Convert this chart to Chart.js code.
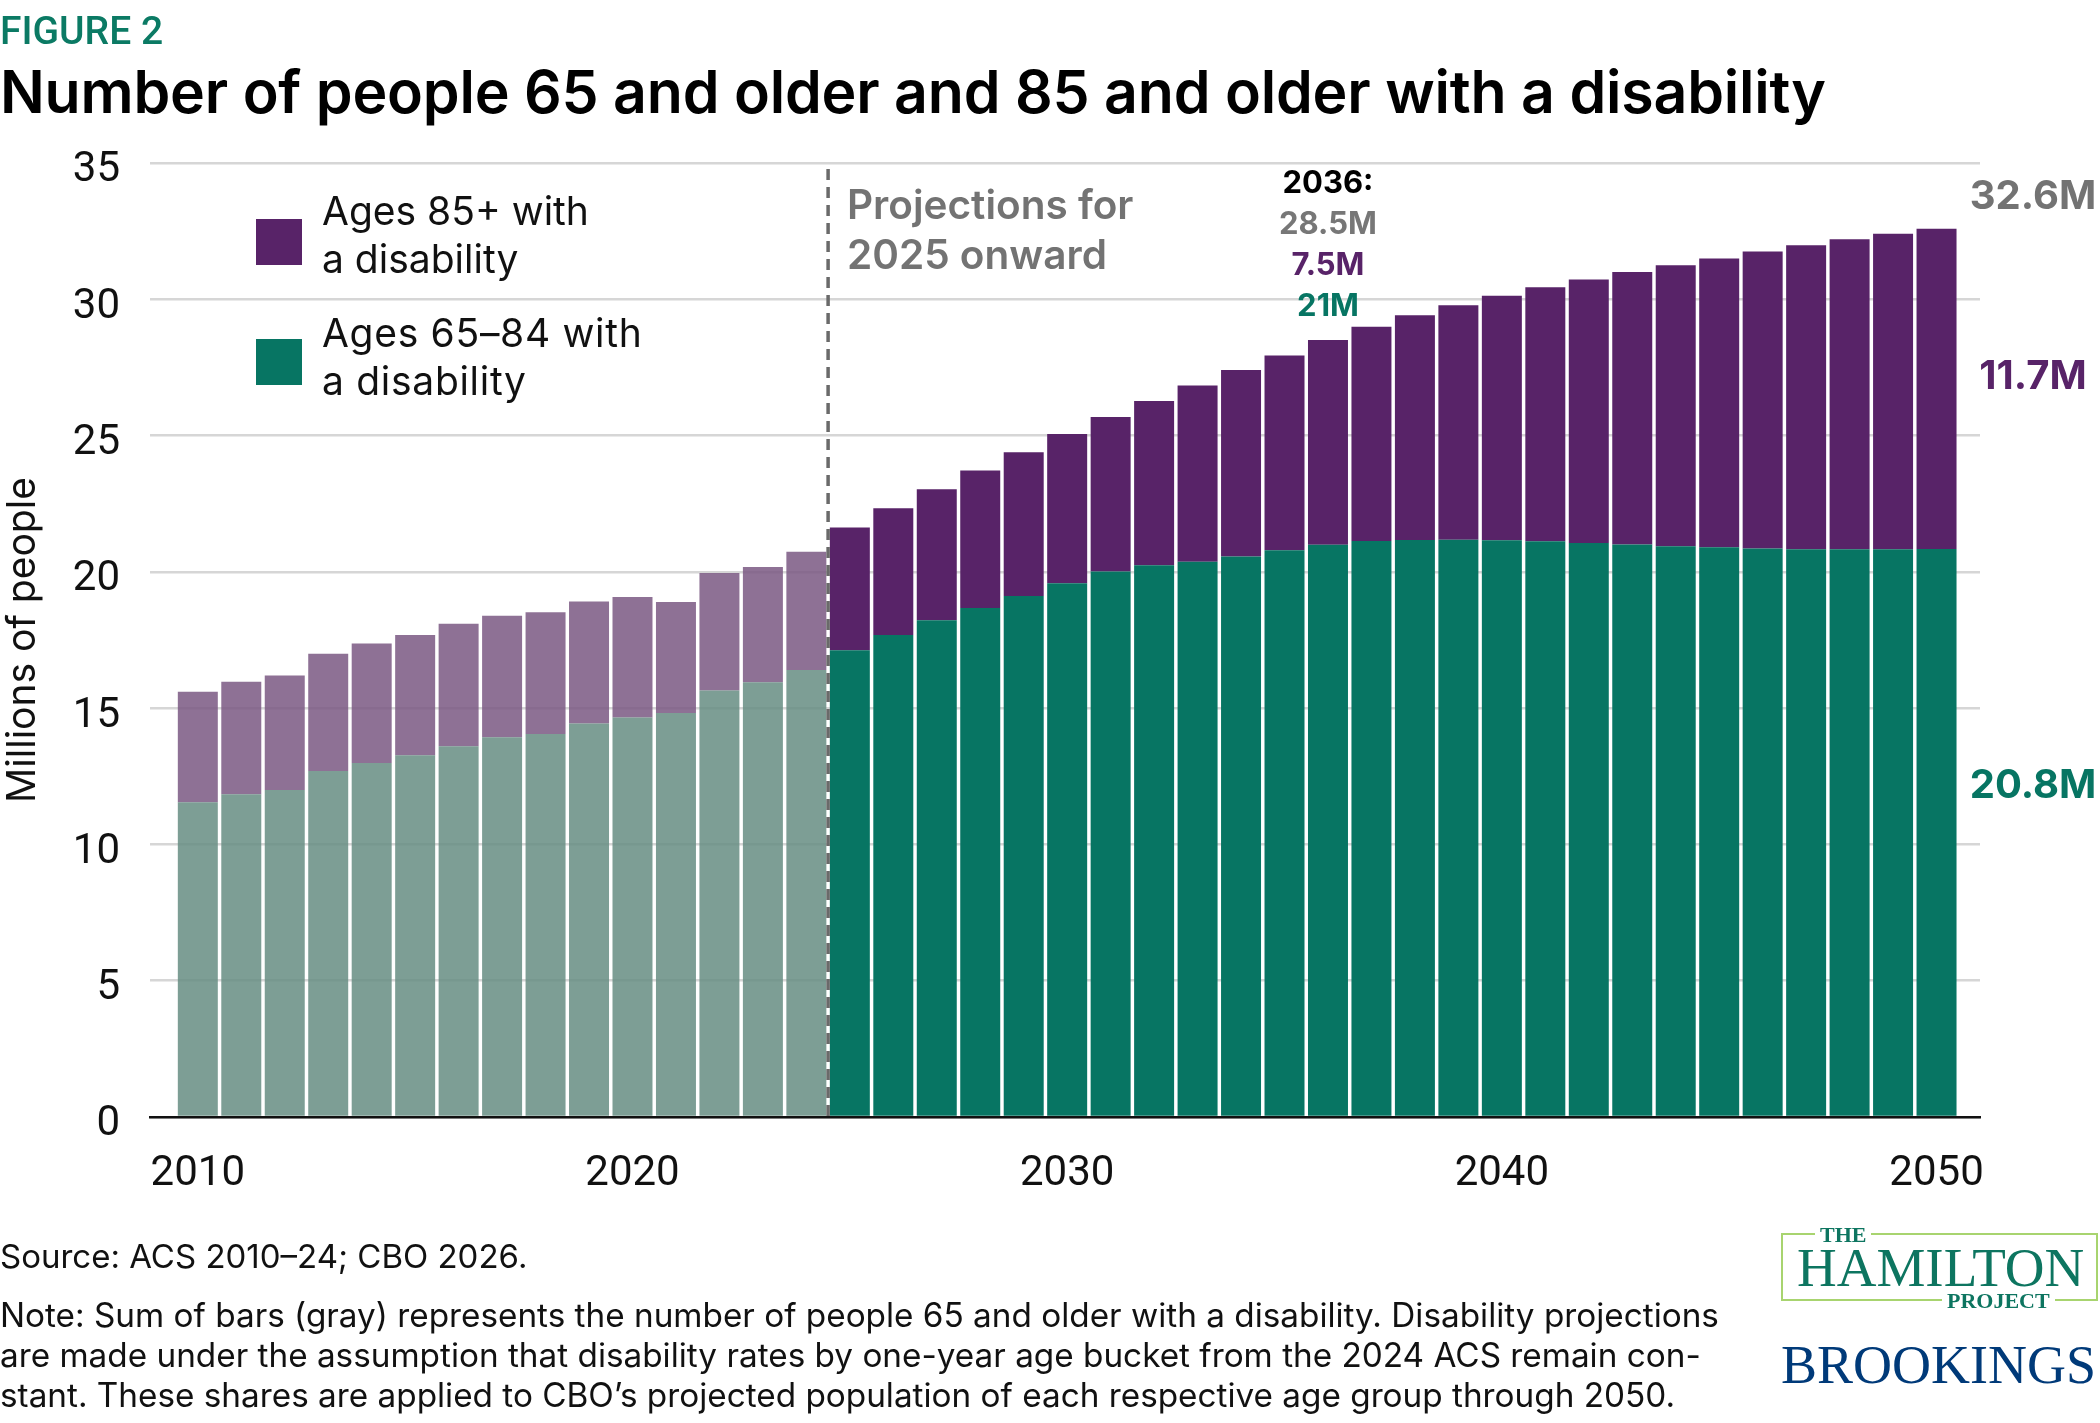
<!DOCTYPE html>
<html>
<head>
<meta charset="utf-8">
<script src="https://cdn.jsdelivr.net/npm/chart.js@4.4.1/dist/chart.umd.min.js"></script>
<style>
  html, body { margin:0; padding:0; background:#fff; }
  #wrap { position:relative; width:2100px; height:1423px; overflow:hidden; background:#fff; }
  #c { position:absolute; left:0; top:0; }
  .t { position:absolute; white-space:pre; margin:0; }
  .inter { font-family: Inter, "Noto Sans", sans-serif; }
  .rob { font-family: Roboto, "Liberation Sans", sans-serif; }
  .serif { font-family: "Liberation Serif", "DejaVu Serif", serif; }
</style>
</head>
<body>
<div id="wrap">
  <canvas id="c" width="2100" height="1423"></canvas>

  <div class="t rob" style="left:0;top:12px;font-size:39px;line-height:39px;font-weight:500;color:#0b7a64;">FIGURE 2</div>
  <div class="t inter" style="left:0;top:62px;font-size:59px;line-height:59px;font-weight:600;color:#000;letter-spacing:-0.2px;">Number of people 65 and older and 85 and older with a disability</div>

  <!-- legend -->
  <div style="position:absolute;left:256px;top:219px;width:46px;height:46px;background:#582368;"></div>
  <div class="t inter" style="left:322px;top:187px;font-size:39px;line-height:48px;color:#111;">Ages 85+ with
a disability</div>
  <div style="position:absolute;left:256px;top:339px;width:46px;height:46px;background:#077563;"></div>
  <div class="t inter" style="left:322px;top:309px;font-size:39px;line-height:48px;color:#111;letter-spacing:0.7px;">Ages 65–84 with
a disability</div>

  <!-- projections note -->
  <div class="t inter" style="left:847px;top:180px;font-size:40.5px;line-height:50px;font-weight:600;color:#737373;">Projections for
2025 onward</div>

  <!-- 2036 annotation -->
  <div class="t inter" style="left:1228px;top:161px;width:200px;text-align:center;font-size:31px;line-height:41px;font-weight:700;"><span style="color:#000">2036:</span>
<span style="color:#777">28.5M</span>
<span style="color:#582368">7.5M</span>
<span style="color:#077563">21M</span></div>

  <!-- right end labels -->
  <div class="t inter" style="left:1963px;top:175px;width:140px;text-align:center;font-size:40px;line-height:40px;font-weight:700;color:#737373;">32.6M</div>
  <div class="t inter" style="left:1963px;top:355px;width:140px;text-align:center;font-size:40px;line-height:40px;font-weight:700;color:#582368;">11.7M</div>
  <div class="t inter" style="left:1963px;top:764px;width:140px;text-align:center;font-size:40px;line-height:40px;font-weight:700;color:#077563;">20.8M</div>

  <!-- footer -->
  <div class="t inter" style="left:0;top:1236px;font-size:33px;line-height:40px;color:#111;">Source: ACS 2010–24; CBO 2026.</div>
  <div class="t inter" style="left:0;top:1295px;font-size:33.3px;line-height:40px;color:#111;">Note: Sum of bars (gray) represents the number of people 65 and older with a disability. Disability projections
are made under the assumption that disability rates by one-year age bucket from the 2024 ACS remain con-
stant. These shares are applied to CBO’s projected population of each respective age group through 2050.</div>

  <!-- logos -->
  <div style="position:absolute;left:1781px;top:1233px;width:317px;height:68px;border:2.5px solid #a8d46f;box-sizing:border-box;"></div>
  <div class="t serif" style="left:1815px;top:1224px;font-size:22px;line-height:22px;font-weight:700;color:#0d7560;background:#fff;padding:0 5px;">THE</div>
  <div class="t serif" style="left:1797px;top:1240px;font-size:55px;line-height:55px;color:#0d7560;">HAMILTON</div>
  <div class="t serif" style="left:1942px;top:1290px;font-size:22px;line-height:22px;font-weight:700;color:#0d7560;background:#fff;padding:0 5px;">PROJECT</div>
  <div class="t serif" style="left:1781px;top:1338px;font-size:54px;line-height:54px;color:#003a79;">BROOKINGS</div>
</div>

<script>
// ---- data ----
const years = [2010,2011,2012,2013,2014,2015,2016,2017,2018,2019,2020,2021,2022,2023,2024,
  2025,2026,2027,2028,2029,2030,2031,2032,2033,2034,2035,2036,2037,2038,2039,2040,
  2041,2042,2043,2044,2045,2046,2047,2048,2049,2050];
const ages65to84 = [11.55,11.84,12.00,12.69,12.99,13.27,13.60,13.93,14.05,14.44,14.66,14.82,15.65,15.95,16.40,
  17.12,17.68,18.22,18.67,19.11,19.58,20.01,20.24,20.37,20.56,20.79,20.99,21.13,21.17,21.18,21.16,
  21.12,21.06,21.00,20.94,20.90,20.86,20.83,20.83,20.83,20.84];
const ages85plus = [4.05,4.13,4.20,4.31,4.38,4.41,4.50,4.46,4.47,4.47,4.42,4.07,4.31,4.23,4.34,
  4.51,4.65,4.81,5.05,5.28,5.48,5.67,6.03,6.47,6.85,7.15,7.52,7.86,8.24,8.60,8.97,
  9.32,9.67,10.00,10.31,10.60,10.89,11.15,11.37,11.57,11.75];
const xTickYears = [2010,2020,2030,2040,2050];
const yTickValues = [0,5,10,15,20,25,30,35];
const projectionStart = 2025;
const seriesNames = ['Ages 65–84 with a disability','Ages 85+ with a disability'];

// ---- styles ----
const COL = {
  teal: '#077563', tealHist: 'rgba(102,141,131,0.85)',
  purple: '#582368', purpleHist: 'rgba(122,88,131,0.85)'
};

const pts = arr => years.map((y,i)=>({x:y, y:arr[i]}));

const dashPlugin = {
  id:'dash',
  afterDatasetsDraw(chart){
    const {ctx, chartArea, scales} = chart;
    const x = scales.x.getPixelForValue(projectionStart - 0.5);
    ctx.save();
    ctx.strokeStyle = '#6a6a6a';
    ctx.lineWidth = 3.5;
    ctx.setLineDash([11,7]);
    ctx.beginPath();
    ctx.moveTo(x, chartArea.top + 6);
    ctx.lineTo(x, chartArea.bottom);
    ctx.stroke();
    ctx.restore();
  }
};

new Chart(document.getElementById('c'), {
  type:'bar',
  data:{
    datasets:[
      { label:seriesNames[0], data:pts(ages65to84), stack:'s',
        backgroundColor: c => (c.raw && c.raw.x < projectionStart) ? COL.tealHist : COL.teal,
        barPercentage:0.92, categoryPercentage:1, borderWidth:0 },
      { label:seriesNames[1], data:pts(ages85plus), stack:'s',
        backgroundColor: c => (c.raw && c.raw.x < projectionStart) ? COL.purpleHist : COL.purple,
        barPercentage:0.92, categoryPercentage:1, borderWidth:0 }
    ]
  },
  options:{
    responsive:false, animation:false, devicePixelRatio:1,
    layout:{ padding:{ left:0, right:120, top:163, bottom:0 } },
    plugins:{ legend:{display:false}, tooltip:{enabled:false} },
    scales:{
      x:{
        type:'linear', stacked:true, min:2008.9, max:2051.0, offset:false, bounds:'ticks',
        afterBuildTicks: s => { s.ticks = xTickYears.map(v=>({value:v})); },
        afterFit: s => { s.height = 306; },
        grid:{ display:false, drawTicks:false, offset:false },
        border:{ display:true, color:'#111', width:2.5 },
        ticks:{ callback: v => String(v), font:{family:'Roboto', size:42}, color:'#111', padding:32, maxRotation:0, autoSkip:false }
      },
      y:{
        stacked:true, min:0, max:35,
        afterBuildTicks: s => { s.ticks = yTickValues.map(v=>({value:v})); },
        afterFit: s => { s.width = 150; },
        grid:{ color:'#d6d6d6', lineWidth:2.5, drawTicks:false },
        border:{ display:false },
        // two-line label (empty first line) nudges the number slightly below its gridline, as in the original
        ticks:{ callback: v => ['', String(v)], font:{family:'Roboto', size:42, lineHeight:0.38}, color:'#111', padding:30 },
        title:{ display:true, text:'Millions of people', font:{family:'Inter', size:39}, color:'#111', padding:{top:0,bottom:0} }
      }
    }
  },
  plugins:[dashPlugin]
});
</script>
</body>
</html>
